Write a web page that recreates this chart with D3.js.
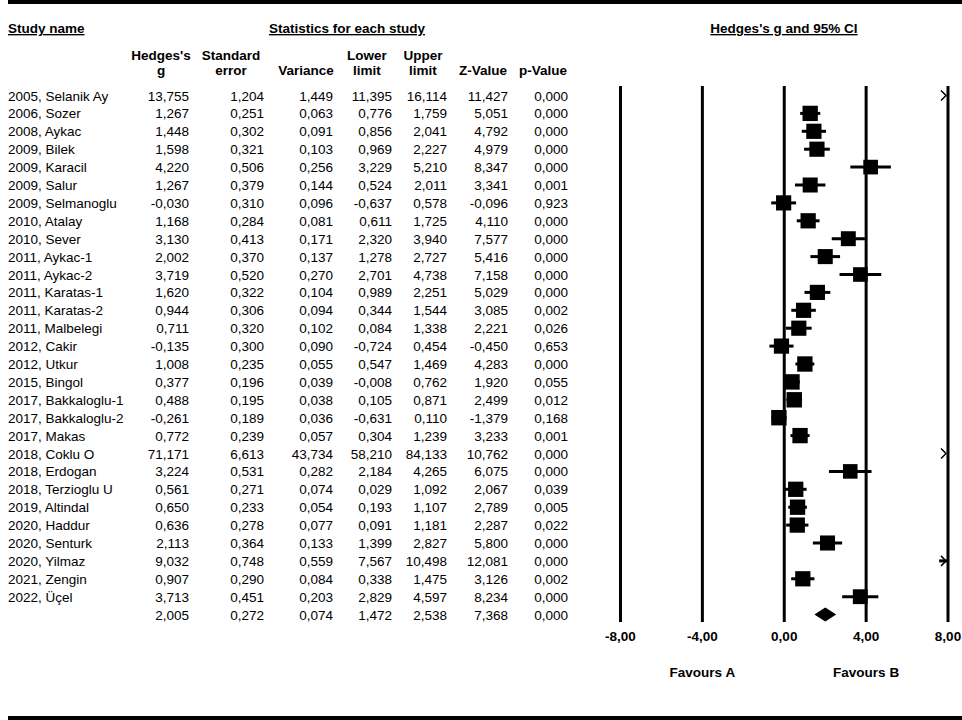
<!DOCTYPE html>
<html>
<head>
<meta charset="utf-8">
<script src="https://cdn.jsdelivr.net/npm/d3@7"></script>
<style>
  body { margin: 0; background: #fff; }
  text { font-family: "Liberation Sans", Arial, sans-serif; fill: #000; }
</style>
</head>
<body>
<div id="my_dataviz"></div>
<script>
// study data
var studies = ["2005, Selanik Ay", "2006, Sozer", "2008, Aykac", "2009, Bilek", "2009, Karacil",
  "2009, Salur", "2009, Selmanoglu", "2010, Atalay", "2010, Sever", "2011, Aykac-1",
  "2011, Aykac-2", "2011, Karatas-1", "2011, Karatas-2", "2011, Malbelegi", "2012, Cakir",
  "2012, Utkur", "2015, Bingol", "2017, Bakkaloglu-1", "2017, Bakkaloglu-2", "2017, Makas",
  "2018, Coklu O", "2018, Erdogan", "2018, Terzioglu U", "2019, Altindal", "2020, Haddur",
  "2020, Senturk", "2020, Yilmaz", "2021, Zengin", "2022, Üçel"];
var hedgesG = [13.755, 1.267, 1.448, 1.598, 4.220, 1.267, -0.030, 1.168, 3.130, 2.002,
  3.719, 1.620, 0.944, 0.711, -0.135, 1.008, 0.377, 0.488, -0.261, 0.772,
  71.171, 3.224, 0.561, 0.650, 0.636, 2.113, 9.032, 0.907, 3.713];
var stdErr = [1.204, 0.251, 0.302, 0.321, 0.506, 0.379, 0.310, 0.284, 0.413, 0.370,
  0.520, 0.322, 0.306, 0.320, 0.300, 0.235, 0.196, 0.195, 0.189, 0.239,
  6.613, 0.531, 0.271, 0.233, 0.278, 0.364, 0.748, 0.290, 0.451];
var variance = [1.449, 0.063, 0.091, 0.103, 0.256, 0.144, 0.096, 0.081, 0.171, 0.137,
  0.270, 0.104, 0.094, 0.102, 0.090, 0.055, 0.039, 0.038, 0.036, 0.057,
  43.734, 0.282, 0.074, 0.054, 0.077, 0.133, 0.559, 0.084, 0.203];
var lowerLimit = [11.395, 0.776, 0.856, 0.969, 3.229, 0.524, -0.637, 0.611, 2.320, 1.278,
  2.701, 0.989, 0.344, 0.084, -0.724, 0.547, -0.008, 0.105, -0.631, 0.304,
  58.210, 2.184, 0.029, 0.193, 0.091, 1.399, 7.567, 0.338, 2.829];
var upperLimit = [16.114, 1.759, 2.041, 2.227, 5.210, 2.011, 0.578, 1.725, 3.940, 2.727,
  4.738, 2.251, 1.544, 1.338, 0.454, 1.469, 0.762, 0.871, 0.110, 1.239,
  84.133, 4.265, 1.092, 1.107, 1.181, 2.827, 10.498, 1.475, 4.597];
var zValue = [11.427, 5.051, 4.792, 4.979, 8.347, 3.341, -0.096, 4.110, 7.577, 5.416,
  7.158, 5.029, 3.085, 2.221, -0.450, 4.283, 1.920, 2.499, -1.379, 3.233,
  10.762, 6.075, 2.067, 2.789, 2.287, 5.800, 12.081, 3.126, 8.234];
var pValue = [0.000, 0.000, 0.000, 0.000, 0.000, 0.001, 0.923, 0.000, 0.000, 0.000,
  0.000, 0.000, 0.002, 0.026, 0.653, 0.000, 0.055, 0.012, 0.168, 0.001,
  0.000, 0.000, 0.039, 0.005, 0.022, 0.000, 0.000, 0.002, 0.000];

// pooled row
var summary = [2.005, 0.272, 0.074, 1.472, 2.538, 7.368, 0.000];

// axis ticks
var tickValues = [-8, -4, 0, 4, 8];
var favourLabels = [{text: "Favours A", at: -4}, {text: "Favours B", at: 4}];

var width = 962, height = 720;

var svg = d3.select("#my_dataviz")
  .append("svg")
    .attr("width", width)
    .attr("height", height);

svg.append("rect")
  .attr("width", width).attr("height", height)
  .attr("fill", "#fff");

// comma decimals like the source software
var loc = d3.formatLocale({decimal: ",", thousands: ".", grouping: [3], currency: ["", ""], minus: "-"});
var fmt3 = loc.format(".3f"), fmt2 = loc.format(".2f");

// frame lines top and bottom
svg.append("rect").attr("x", 8).attr("y", 0).attr("width", width - 8).attr("height", 4).attr("fill", "#000");
svg.append("rect").attr("x", 8).attr("y", 716).attr("width", width - 8).attr("height", 4).attr("fill", "#000");

// section titles
var titles = [
  {text: "Study name", x: 8, anchor: "start"},
  {text: "Statistics for each study", x: 347, anchor: "middle"},
  {text: "Hedges's g and 95% CI", x: 784, anchor: "middle"}
];
svg.selectAll(".title")
  .data(titles)
  .enter()
  .append("text")
    .attr("class", "title")
    .attr("x", function(d) { return d.x; })
    .attr("y", 33)
    .attr("text-anchor", function(d) { return d.anchor; })
    .style("font-size", "13.5px")
    .style("font-weight", "bold")
    .style("text-decoration", "underline")
    .text(function(d) { return d.text; });

// column headers and their right edges
var columns = [
  {l1: "Hedges's", l2: "g", cx: 161, right: 189},
  {l1: "Standard", l2: "error", cx: 231, right: 264},
  {l1: "", l2: "Variance", cx: 306, right: 333},
  {l1: "Lower", l2: "limit", cx: 367, right: 392},
  {l1: "Upper", l2: "limit", cx: 423, right: 447},
  {l1: "", l2: "Z-Value", cx: 483, right: 508},
  {l1: "", l2: "p-Value", cx: 543, right: 568}
];
var head = svg.append("g").style("font-size", "13.5px").style("font-weight", "bold");
columns.forEach(function(c) {
  head.append("text").attr("x", c.cx).attr("y", 60).attr("text-anchor", "middle").text(c.l1);
  head.append("text").attr("x", c.cx).attr("y", 75).attr("text-anchor", "middle").text(c.l2);
});

// row positions
var rowIdx = d3.range(studies.length + 1);
var y = d3.scalePoint()
  .domain(rowIdx)
  .range([95.5, 95.5 + 17.9 * studies.length]);

var rows = studies.map(function(name, i) {
  return {name: name, vals: [hedgesG[i], stdErr[i], variance[i], lowerLimit[i], upperLimit[i], zValue[i], pValue[i]]};
});
rows.push({name: "", vals: summary});

var table = svg.append("g").style("font-size", "13.5px");
rows.forEach(function(r, i) {
  table.append("text").attr("x", 8).attr("y", y(i) + 5).text(r.name);
  r.vals.forEach(function(v, j) {
    table.append("text")
      .attr("x", columns[j].right)
      .attr("y", y(i) + 5)
      .attr("text-anchor", "end")
      .text(fmt3(v));
  });
});

// forest plot scale
var x = d3.scaleLinear().domain([-8, 8]).range([620.5, 948]);
var plotTop = 86, plotBottom = 622;

svg.selectAll(".grid")
  .data(tickValues)
  .enter()
  .append("line")
    .attr("x1", function(d) { return x(d); })
    .attr("x2", function(d) { return x(d); })
    .attr("y1", plotTop)
    .attr("y2", plotBottom)
    .attr("stroke", "#000")
    .attr("stroke-width", 3);

svg.selectAll(".tick")
  .data(tickValues)
  .enter()
  .append("text")
    .attr("x", function(d) { return x(d); })
    .attr("y", 641)
    .attr("text-anchor", "middle")
    .style("font-size", "13.5px")
    .style("font-weight", "bold")
    .text(function(d) { return fmt2(d); });

svg.selectAll(".favour")
  .data(favourLabels)
  .enter()
  .append("text")
    .attr("x", function(d) { return x(d.at); })
    .attr("y", 677)
    .attr("text-anchor", "middle")
    .style("font-size", "13.5px")
    .style("font-weight", "bold")
    .text(function(d) { return d.text; });

// box size from random-effects weight
var tau2 = 2.0;
var boxSize = function(v) { return 22 * Math.sqrt(1 / (v + tau2)); };

var xmin = x.domain()[0], xmax = x.domain()[1];
var plot = svg.append("g");
studies.forEach(function(name, i) {
  var lo = Math.max(lowerLimit[i], xmin), hi = Math.min(upperLimit[i], xmax);
  var cy = y(i);
  if (lo < hi) {
    plot.append("line")
      .attr("x1", x(lo)).attr("x2", x(hi))
      .attr("y1", cy).attr("y2", cy)
      .attr("stroke", "#000").attr("stroke-width", 3);
  }
  if (upperLimit[i] > xmax) {
    // arrow at the right edge
    plot.append("path")
      .attr("d", "M" + (x(xmax) - 7) + "," + (cy - 5) + "L" + (x(xmax) - 2) + "," + cy + "L" + (x(xmax) - 7) + "," + (cy + 5))
      .attr("fill", "none").attr("stroke", "#000").attr("stroke-width", 1.5);
  }
  if (hedgesG[i] >= xmin && hedgesG[i] <= xmax) {
    var s = boxSize(variance[i]);
    plot.append("rect")
      .attr("x", x(hedgesG[i]) - s / 2)
      .attr("y", cy - s / 2)
      .attr("width", s).attr("height", s)
      .attr("fill", "#000");
  }
});

// summary diamond
var sy = y(studies.length);
plot.append("path")
  .attr("d", "M" + x(summary[3]) + "," + sy +
    "L" + x(summary[0]) + "," + (sy - 7) +
    "L" + x(summary[4]) + "," + sy +
    "L" + x(summary[0]) + "," + (sy + 7) + "Z")
  .attr("fill", "#000");
</script>
</body>
</html>
